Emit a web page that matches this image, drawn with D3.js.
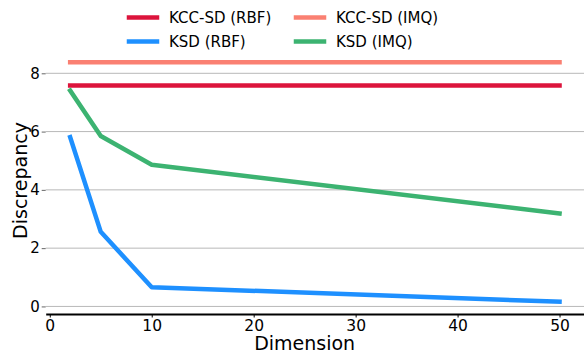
<!DOCTYPE html>
<html>
<head>
<meta charset="utf-8">
<script src="https://cdn.jsdelivr.net/npm/d3@7"></script>
<style>
  body { margin: 0; background: #fff; }
  svg { display: block; font-family: "DejaVu Sans", sans-serif; }
</style>
</head>
<body>
<script>
// data
var dims = [2, 5, 10, 50];
var kccRbf = [7.58, 7.58, 7.58, 7.58];
var kccImq = [8.38, 8.38, 8.38, 8.38];
var ksdRbf = [5.81, 2.56, 0.66, 0.16];
var ksdImq = [7.41, 5.85, 4.86, 3.19];
var seriesNames = ["KCC-SD (RBF)", "KCC-SD (IMQ)", "KSD (RBF)", "KSD (IMQ)"];
var seriesColors = ["#DC143C", "#FA8072", "#1E90FF", "#3CB371"];
var xTicks = [0, 10, 20, 30, 40, 50];
var yTicks = [0, 2, 4, 6, 8];

var W = 584, H = 354;
var margin = {top: 50, right: 0, bottom: 40, left: 45.7};
var width = W - margin.left - margin.right,
    height = H - margin.top - margin.bottom;

var svg = d3.select("body").append("svg")
    .attr("width", W)
    .attr("height", H);

var g = svg.append("g")
    .attr("transform", "translate(" + margin.left + "," + margin.top + ")");

var x = d3.scaleLinear().domain([-0.4, 52.4]).range([0, width]);
var y = d3.scaleLinear().domain([-0.26, 8.8]).range([height, 0]);

var series = [kccRbf, kccImq, ksdRbf, ksdImq].map(function(vals, i) {
    return {
        name: seriesNames[i],
        color: seriesColors[i],
        values: dims.map(function(d, j) { return {dim: d, v: vals[j]}; })
    };
});

// horizontal grid
g.append("g")
    .selectAll("line")
    .data(yTicks)
    .enter().append("line")
    .attr("x1", 0).attr("x2", width)
    .attr("y1", function(d) { return y(d); })
    .attr("y2", function(d) { return y(d); })
    .attr("stroke", "#b8b8b8")
    .attr("stroke-width", 1);

// y axis (no spine)
var yAxis = g.append("g")
    .call(d3.axisLeft(y).tickValues(yTicks).tickSize(4).tickPadding(2).tickFormat(d3.format("d")));
yAxis.select(".domain").remove();
yAxis.selectAll(".tick line").attr("stroke", "#666");
yAxis.selectAll(".tick text")
    .attr("fill", "#000")
    .style("font-size", "15px")
    .style("font-family", "DejaVu Sans");

// x axis
var xAxis = g.append("g")
    .attr("transform", "translate(0," + height + ")")
    .call(d3.axisBottom(x).tickValues(xTicks).tickSize(3.5).tickPadding(2).tickSizeOuter(0));
xAxis.select(".domain").attr("stroke", "#000").attr("stroke-width", 1.8);
xAxis.selectAll(".tick line").attr("stroke", "#000");
xAxis.selectAll(".tick text")
    .attr("fill", "#000")
    .style("font-size", "15.5px")
    .style("font-family", "DejaVu Sans");

// lines
var line = d3.line()
    .x(function(d) { return x(d.dim); })
    .y(function(d) { return y(d.v); });

g.selectAll(".series")
    .data(series)
    .enter().append("path")
    .attr("class", "series")
    .attr("d", function(d) { return line(d.values); })
    .attr("fill", "none")
    .attr("stroke", function(d) { return d.color; })
    .attr("stroke-width", 4.5)
    .attr("stroke-linecap", "square")
    .attr("stroke-linejoin", "round");

// axis labels
svg.append("text")
    .attr("x", margin.left + x(25))
    .attr("y", 350)
    .attr("text-anchor", "middle")
    .style("font-size", "19px")
    .text("Dimension");

svg.append("text")
    .attr("transform", "translate(27," + 180.5 + ")rotate(-90)")
    .attr("text-anchor", "middle")
    .style("font-size", "19px")
    .text("Discrepancy");

// legend, two columns
var legend = svg.append("g")
    .selectAll("g")
    .data(series)
    .enter().append("g")
    .attr("transform", function(d, i) {
        var col = i % 2, row = Math.floor(i / 2);
        return "translate(" + (127 + col * 167) + "," + (17.5 + row * 24) + ")";
    });

legend.append("line")
    .attr("x1", 2).attr("x2", 30)
    .attr("stroke", function(d) { return d.color; })
    .attr("stroke-width", 4.5)
    .attr("stroke-linecap", "square");

legend.append("text")
    .attr("x", 42)
    .attr("dy", "0.36em")
    .style("font-size", "15px")
    .text(function(d) { return d.name; });
</script>
</body>
</html>
